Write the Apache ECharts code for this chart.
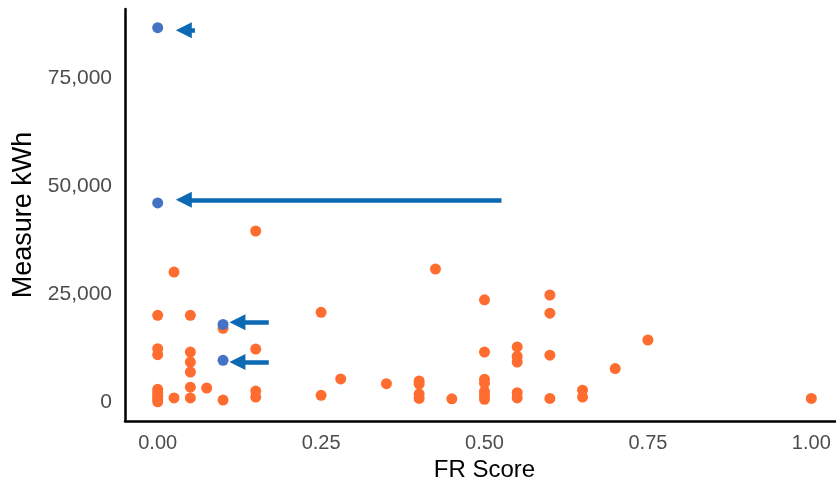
<!DOCTYPE html>
<html>
<head>
<meta charset="utf-8">
<script src="https://cdn.jsdelivr.net/npm/echarts@6/dist/echarts.min.js"></script>
<style>html,body{margin:0;padding:0;background:#fff}#c{width:836px;height:487px}</style>
</head>
<body>
<div id="c"></div>
<script>
// FR Score (x) and Measure kWh (y)
const otherX = [0,0,0,0,0,0,0,0, 0.025,0.025, 0.05,0.05,0.05,0.05,0.05,0.05, 0.075, 0.1,0.1, 0.15,0.15,0.15,0.15, 0.25,0.25, 0.28, 0.35, 0.4,0.4,0.4,0.4, 0.425, 0.45, 0.5,0.5,0.5,0.5,0.5,0.5,0.5, 0.55,0.55,0.55,0.55,0.55, 0.6,0.6,0.6,0.6, 0.65,0.65, 0.7, 0.75, 1.0];
const otherY = [20100,12400,11000,3000,2200,1400,700,100, 30100,1000, 20100,11600,9300,7000,3500,1000, 3300, 17100,500, 39600,12300,2600,1200, 20800,1600, 5400, 4300, 4900,4200,1900,900, 30800, 800, 23700,11600,5300,4400,2500,1600,700, 12800,10600,9300,2200,1000, 24800,20600,10900,900, 2800,1200, 7800, 14400, 900];
const highlightX = [0, 0, 0.1, 0.1];
const highlightY = [86600, 46100, 18000, 9700];
// arrows: tail -> head centre
const arrowFrom = [[0.057, 86000], [0.526, 46800], [0.17, 18500], [0.17, 9300]];
const arrowTo   = [[0.04, 86000], [0.04, 46800], [0.122, 18500], [0.122, 9300]];
const xTicks = [0, 0.25, 0.5, 0.75, 1];
const yTicks = [0, 25000, 50000, 75000];

const pts = (xs, ys) => xs.map((x, i) => [x, ys[i]]);
const chart = echarts.init(document.getElementById('c'));
const font = 'Liberation Sans, Arial, sans-serif';
chart.setOption({
  animation: false,
  grid: { left: 125, top: 9, width: 719, height: 412, containLabel: false, outerBoundsMode: 'none' },
  xAxis: {
    type: 'value', min: -0.05, max: 1.05,
    name: 'FR Score', nameLocation: 'middle', nameGap: 33,
    nameTextStyle: { fontSize: 24, color: '#000', fontFamily: font },
    axisLine: { show: true, onZero: false, lineStyle: { color: '#000', width: 2.5 } },
    axisTick: { show: false },
    splitLine: { show: false },
    axisLabel: { customValues: xTicks, fontSize: 20, color: '#4d4d4d', margin: 12, fontFamily: font,
      formatter: v => v.toFixed(2) }
  },
  yAxis: {
    type: 'value', min: -4330, max: 90930,
    name: 'Measure kWh', nameLocation: 'middle', nameGap: 88, nameRotate: 90,
    nameTextStyle: { fontSize: 27, color: '#000', fontFamily: font },
    axisLine: { show: true, onZero: false, lineStyle: { color: '#000', width: 2.5 } },
    axisTick: { show: false },
    splitLine: { show: false },
    axisLabel: { customValues: yTicks, fontSize: 21, color: '#4d4d4d', margin: 13, fontFamily: font,
      formatter: v => v.toLocaleString('en-US') }
  },
  series: [
    {
      type: 'scatter', data: pts(otherX, otherY), symbolSize: 11,
      itemStyle: { color: '#ff6c2f', opacity: 1 }, z: 2
    },
    {
      type: 'scatter', data: pts(highlightX, highlightY), symbolSize: 11,
      itemStyle: { color: '#4472c4', opacity: 1 }, z: 3,
      markLine: {
        silent: true, animation: false,
        symbol: ['none', 'triangle'], symbolSize: [16, 16], symbolOffset: [0, 0],
        label: { show: false },
        lineStyle: { color: '#0c69b3', width: 4.5, type: 'solid' },
        emphasis: { disabled: true },
        data: arrowFrom.map((f, i) => [{ coord: f }, { coord: arrowTo[i] }])
      }
    }
  ]
});
</script>
</body>
</html>
